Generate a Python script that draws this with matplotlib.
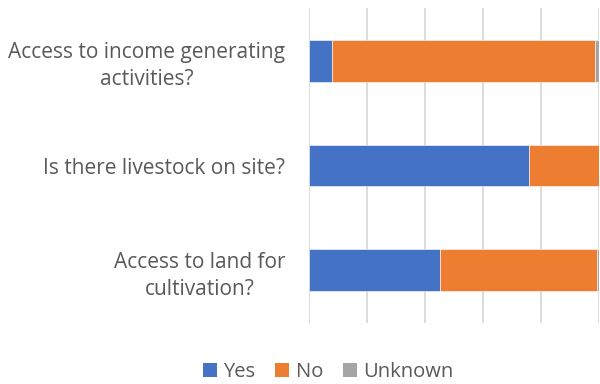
import matplotlib.pyplot as plt
from matplotlib.patches import Patch

# Share of sites answering each question (percent)
questions = [
    "Access to income generating\nactivities?",
    "Is there livestock on site?",
    "Access to land for\ncultivation?",
]
yes = [8.0, 76.0, 45.3]
no = [90.7, 24.0, 54.1]
unknown = [1.3, 0.0, 0.6]

colors = {"Yes": "#4472C4", "No": "#ED7D31", "Unknown": "#A5A5A5"}
text_color = "#595959"

plt.rcParams["font.family"] = ["Open Sans", "DejaVu Sans"]

fig = plt.figure(figsize=(6, 3.84), dpi=100)
ax = fig.add_axes([0.515, 0.159, 0.4833, 0.82])

pos = list(range(len(questions)))
left = [0.0] * len(questions)
for name, vals in (("Yes", yes), ("No", no), ("Unknown", unknown)):
    ax.barh(pos, vals, left=left, height=0.4, color=colors[name],
            edgecolor="white", linewidth=0.4, zorder=3)
    left = [l + v for l, v in zip(left, vals)]

ax.set_xlim(0, 100)
ax.set_ylim(2.5, -0.5)
ax.set_xticks([0, 20, 40, 60, 80, 100])
ax.set_xticklabels([])
ax.tick_params(axis="x", length=0)
ax.tick_params(axis="y", length=0, pad=17)
ax.set_yticks(pos)
ax.set_yticklabels(questions, fontsize=15, color=text_color,
                   multialignment="center", linespacing=1.35)
ax.grid(axis="x", color="#D9D9D9", linewidth=1.3, zorder=0)
for s in ax.spines.values():
    s.set_visible(False)

handles = [Patch(facecolor=c, label=n) for n, c in colors.items()]
fig.legend(handles=handles, loc="center", bbox_to_anchor=(0.547, 0.03),
           ncol=3, frameon=False, fontsize=14.5, labelcolor=text_color,
           handlelength=0.7, handleheight=0.7, handletextpad=0.3,
           columnspacing=1.0, borderpad=0.2)

fig.savefig("out.png", dpi=100)
